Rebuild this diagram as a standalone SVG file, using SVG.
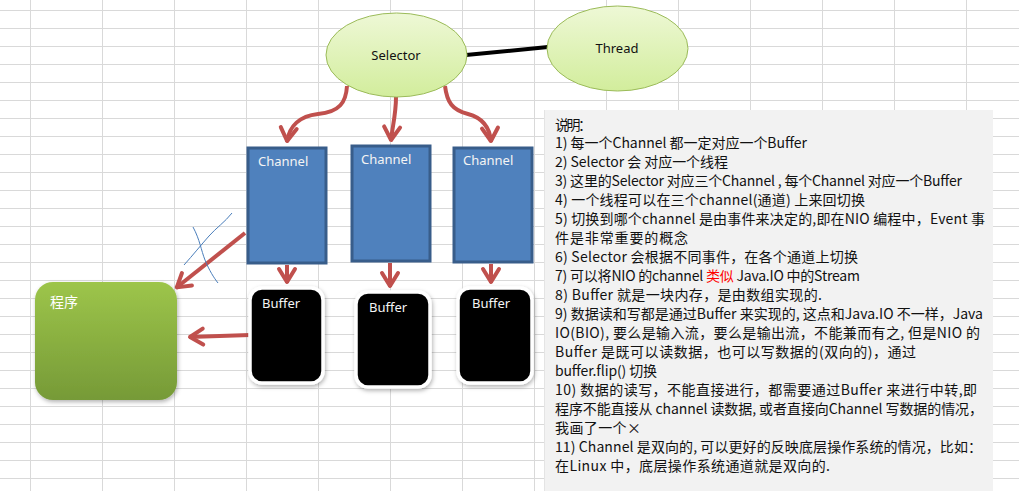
<svg xmlns="http://www.w3.org/2000/svg" width="1019" height="491" viewBox="0 0 1019 491">
<defs>
<style>
.grid line{stroke:#d9d9d9;stroke-width:1}
.lbl{font-family:"Noto Sans","Liberation Sans",sans-serif;font-size:13px}
.wl{fill:#f4f4f4}
.arr{fill:none;stroke:#c0504d;stroke-width:4;marker-end:url(#ah)}
.chan{fill:#4f81bd;stroke:#385d8a;stroke-width:3}
.buf{fill:#000;stroke:#fff;stroke-width:3.5}
.note{font-family:"Noto Sans CJK SC","Noto Sans",sans-serif;font-size:14px;fill:#111}
</style>
<linearGradient id="gEll" x1="0" y1="0" x2="0" y2="1">
<stop offset="0" stop-color="#eef8d6"/>
<stop offset="1" stop-color="#d2ed9c"/>
</linearGradient>
<linearGradient id="gProg" x1="0" y1="0" x2="0" y2="1">
<stop offset="0" stop-color="#9dc54a"/>
<stop offset="1" stop-color="#769a37"/>
</linearGradient>
<filter id="sh" x="-20%" y="-20%" width="140%" height="140%">
<feDropShadow dx="1" dy="2" stdDeviation="2" flood-color="#000" flood-opacity="0.3"/>
</filter>
<marker id="ah" viewBox="-18 -12 22 24" refX="0" refY="0" markerWidth="22" markerHeight="24" markerUnits="userSpaceOnUse" orient="auto">
<path d="M-14,-8 L-1,0 L-14,8" fill="none" stroke="#c0504d" stroke-width="4" stroke-linejoin="round" stroke-linecap="round"/>
</marker>
</defs>
<rect width="1019" height="491" fill="#fff"/>
<g class="grid">
<line x1="0" y1="10.5" x2="1019" y2="10.5"/><line x1="0" y1="28.5" x2="1019" y2="28.5"/><line x1="0" y1="46.5" x2="1019" y2="46.5"/><line x1="0" y1="64.5" x2="1019" y2="64.5"/><line x1="0" y1="82.5" x2="1019" y2="82.5"/><line x1="0" y1="100.5" x2="1019" y2="100.5"/><line x1="0" y1="118.5" x2="1019" y2="118.5"/><line x1="0" y1="136.5" x2="1019" y2="136.5"/><line x1="0" y1="154.5" x2="1019" y2="154.5"/><line x1="0" y1="172.5" x2="1019" y2="172.5"/><line x1="0" y1="190.5" x2="1019" y2="190.5"/><line x1="0" y1="208.5" x2="1019" y2="208.5"/><line x1="0" y1="226.5" x2="1019" y2="226.5"/><line x1="0" y1="244.5" x2="1019" y2="244.5"/><line x1="0" y1="262.5" x2="1019" y2="262.5"/><line x1="0" y1="280.5" x2="1019" y2="280.5"/><line x1="0" y1="298.5" x2="1019" y2="298.5"/><line x1="0" y1="316.5" x2="1019" y2="316.5"/><line x1="0" y1="334.5" x2="1019" y2="334.5"/><line x1="0" y1="352.5" x2="1019" y2="352.5"/><line x1="0" y1="370.5" x2="1019" y2="370.5"/><line x1="0" y1="388.5" x2="1019" y2="388.5"/><line x1="0" y1="406.5" x2="1019" y2="406.5"/><line x1="0" y1="424.5" x2="1019" y2="424.5"/><line x1="0" y1="442.5" x2="1019" y2="442.5"/><line x1="0" y1="460.5" x2="1019" y2="460.5"/><line x1="0" y1="478.5" x2="1019" y2="478.5"/>
<line x1="30.5" y1="0" x2="30.5" y2="491"/><line x1="102.5" y1="0" x2="102.5" y2="491"/><line x1="174.5" y1="0" x2="174.5" y2="491"/><line x1="246.5" y1="0" x2="246.5" y2="491"/><line x1="318.5" y1="0" x2="318.5" y2="491"/><line x1="390.5" y1="0" x2="390.5" y2="491"/><line x1="462.5" y1="0" x2="462.5" y2="491"/><line x1="534.5" y1="0" x2="534.5" y2="491"/><line x1="606.5" y1="0" x2="606.5" y2="491"/><line x1="678.5" y1="0" x2="678.5" y2="491"/><line x1="750.5" y1="0" x2="750.5" y2="491"/><line x1="822.5" y1="0" x2="822.5" y2="491"/><line x1="894.5" y1="0" x2="894.5" y2="491"/><line x1="966.5" y1="0" x2="966.5" y2="491"/>
</g>
<g id="connectors">
<line x1="466" y1="55" x2="548" y2="47" stroke="#000" stroke-width="4"/>
<path class="arr" d="M347,86 C346,102 340,112 318,114 C300,116 289,126 287,142"/>
<path class="arr" d="M396,97 C396,115 392,128 391,141"/>
<path class="arr" d="M445,86 C447,102 452,110 468,114 C483,118 490,128 491,142"/>
<path class="arr" d="M287,265 L287,283"/>
<path class="arr" d="M390,263 L390,287"/>
<path class="arr" d="M491,264 L491,283"/>
<path class="arr" d="M245,233 L176,288"/>
<path class="arr" d="M250,335 L189,337"/>
<path d="M232,213 C225,222 216,228 209,236 C201,245 193,255 184,265" fill="none" stroke="#4a7ebb" stroke-width="1"/>
<path d="M193,227 C200,240 201,250 205,260 C209,270 214,278 218,283" fill="none" stroke="#4a7ebb" stroke-width="1"/>
</g>
<g id="selector">
<ellipse cx="396.5" cy="55" rx="70.5" ry="42" fill="url(#gEll)" stroke="#9bbb59" stroke-width="1"/>
<text class="lbl" x="396" y="60" text-anchor="middle" fill="#111">Selector</text>
</g>
<g id="thread">
<ellipse cx="617.5" cy="48.5" rx="70.5" ry="42.5" fill="url(#gEll)" stroke="#9bbb59" stroke-width="1"/>
<text class="lbl" x="617" y="53" text-anchor="middle" fill="#111">Thread</text>
</g>
<g id="channel1">
<rect class="chan" x="248" y="148" width="78" height="115"/>
<text class="lbl wl" x="258" y="166">Channel</text>
</g>
<g id="channel2">
<rect class="chan" x="352" y="146" width="78" height="115"/>
<text class="lbl wl" x="361" y="164">Channel</text>
</g>
<g id="channel3">
<rect class="chan" x="454" y="148" width="78" height="114"/>
<text class="lbl wl" x="463" y="165">Channel</text>
</g>
<g id="buffer1">
<rect class="buf" x="250" y="288" width="73" height="95" rx="12" filter="url(#sh)"/>
<text class="lbl wl" x="262" y="308">Buffer</text>
</g>
<g id="buffer2">
<rect class="buf" x="356" y="292" width="74" height="95" rx="12" filter="url(#sh)"/>
<text class="lbl wl" x="369" y="312">Buffer</text>
</g>
<g id="buffer3">
<rect class="buf" x="458" y="288" width="74" height="95" rx="12" filter="url(#sh)"/>
<text class="lbl wl" x="472" y="308">Buffer</text>
</g>
<g id="program">
<rect x="35" y="282" width="142" height="118" rx="18" fill="url(#gProg)" filter="url(#sh)"/>
<text x="50" y="307" font-family="'Noto Sans CJK SC',sans-serif" font-size="14" fill="#fff">程序</text>
</g>
<g id="note">
<rect x="545" y="110" width="448" height="381" fill="#f2f2f2"/>
<line x1="544.5" y1="110" x2="544.5" y2="491" stroke="#e4e4e4" stroke-width="1"/>
<text class="note" x="555" y="130" textLength="37" lengthAdjust="spacing">说明：</text>
<text class="note" x="555" y="148" textLength="252" lengthAdjust="spacing">1) 每一个Channel 都一定对应一个Buffer</text>
<text class="note" x="555" y="167" textLength="173" lengthAdjust="spacing">2) Selector 会 对应一个线程</text>
<text class="note" x="555" y="186" textLength="407" lengthAdjust="spacing">3) 这里的Selector 对应三个Channel , 每个Channel 对应一个Buffer</text>
<text class="note" x="555" y="205" textLength="310" lengthAdjust="spacing">4) 一个线程可以在三个channel(通道) 上来回切换</text>
<text class="note" x="555" y="224" textLength="430" lengthAdjust="spacing">5) 切换到哪个channel 是由事件来决定的,即在NIO 编程中，Event 事</text>
<text class="note" x="555" y="243" textLength="133" lengthAdjust="spacing">件是非常重要的概念</text>
<text class="note" x="555" y="262" textLength="303" lengthAdjust="spacing">6) Selector 会根据不同事件，在各个通道上切换</text>
<text class="note" x="555" y="281" textLength="305" lengthAdjust="spacing">7) 可以将NIO 的channel <tspan fill="#ff0000">类似</tspan> Java.IO 中的Stream</text>
<text class="note" x="555" y="300" textLength="267" lengthAdjust="spacing">8) Buffer 就是一块内存，是由数组实现的.</text>
<text class="note" x="555" y="319" textLength="428" lengthAdjust="spacing">9) 数据读和写都是通过Buffer 来实现的, 这点和Java.IO 不一样，Java</text>
<text class="note" x="555" y="338" textLength="425" lengthAdjust="spacing">IO(BIO), 要么是输入流，要么是输出流，不能兼而有之, 但是NIO 的</text>
<text class="note" x="555" y="357" textLength="361" lengthAdjust="spacing">Buffer 是既可以读数据，也可以写数据的(双向的)，通过</text>
<text class="note" x="555" y="376" textLength="102" lengthAdjust="spacing">buffer.flip() 切换</text>
<text class="note" x="555" y="395" textLength="422" lengthAdjust="spacing">10) 数据的读写，不能直接进行，都需要通过Buffer 来进行中转,即</text>
<text class="note" x="555" y="414" textLength="428" lengthAdjust="spacing">程序不能直接从 channel 读数据, 或者直接向Channel 写数据的情况，</text>
<text class="note" x="555" y="433" textLength="86" lengthAdjust="spacing">我画了一个×</text>
<text class="note" x="555" y="452" textLength="427" lengthAdjust="spacing">11) Channel 是双向的, 可以更好的反映底层操作系统的情况，比如：</text>
<text class="note" x="555" y="471" textLength="275" lengthAdjust="spacing">在Linux 中，底层操作系统通道就是双向的.</text>
</g>
</svg>
